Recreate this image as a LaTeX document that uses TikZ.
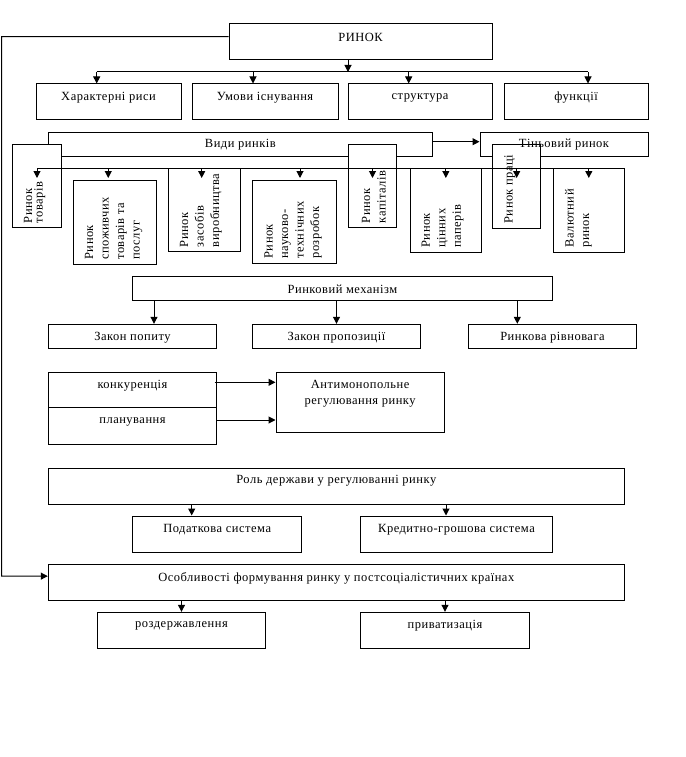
\documentclass[tikz,border=0pt]{standalone}
\usepackage{fontspec}
\setmainfont[LetterSpace=4]{Liberation Serif}
\usetikzlibrary{arrows.meta}
\tikzset{
  bx/.style={draw, fill=white, line width=1pt, inner sep=0pt},
  txt/.style={inner sep=0pt, font=\fontsize{12.5}{15.5}\selectfont, align=center},
  vtxt/.style={inner sep=0pt, rotate=90, anchor=north west, align=left, font=\fontsize{12.5}{15.5}\selectfont},
  ln/.style={line width=1pt},
  arr/.style={line width=1pt, -{Triangle[length=7pt,width=7pt]}}
}
\newcommand\mkbox[5]{%
  \pgfmathsetmacro\bxw{#4-#2}\pgfmathsetmacro\bxh{#5-#3}%
  \pgfmathsetmacro\bxx{(#2+#4)/2}\pgfmathsetmacro\bxy{(#3+#5)/2}%
  \node[bx, minimum width=\bxw pt, minimum height=\bxh pt] (#1) at (\bxx,\bxy) {};}
\begin{document}
\begin{tikzpicture}[x=1pt,y=-1pt]
\useasboundingbox (0,0) rectangle (685,757);
% top
\mkbox{rinok}{229}{24}{492}{60}
\mkbox{har}{36}{84}{181}{120}
\mkbox{umovy}{192}{84}{338}{120}
\mkbox{struct}{348}{84}{492}{120}
\mkbox{func}{504}{84}{648}{120}
\node[txt] (rinok-t) at ([yshift=-13.5pt]rinok.north) {РИНОК};
\node[txt] (har-t) at ([yshift=-14pt]har.north) {Характерні риси};
\node[txt] (umovy-t) at ([yshift=-14pt]umovy.north) {Умови існування};
\node[txt] (struct-t) at ([yshift=-14pt]struct.north) {структура};
\node[txt] (func-t) at ([yshift=-14pt]func.north) {функції};
% kinds of markets
\mkbox{vydy}{48}{132.3}{432.7}{156.7}
\mkbox{tin}{480}{132.3}{648}{156.7}
\node[txt] (vydy-t) at ([yshift=-12.5pt]vydy.north) {Види ринків};
\mkbox{v1}{12.3}{144.3}{61.7}{227.7}
\mkbox{v2}{73.3}{180}{156}{264.3}
\mkbox{v3}{168.3}{168.3}{240.7}{251.7}
\mkbox{v4}{252.7}{180}{336.7}{263.3}
\mkbox{v5}{348.3}{144.3}{396.7}{227.7}
\mkbox{v6}{410}{168.3}{481.7}{252.3}
\mkbox{v7}{492.7}{144.3}{540.7}{228.3}
\mkbox{v8}{553.3}{168.3}{624.3}{252.3}
\node[txt] (tin-t) at ([yshift=-12.5pt]tin.north) {Тіньовий ринок};
\node[vtxt, font=\fontsize{12.5}{10.5}\selectfont] (v1-t) at ([xshift=12pt,yshift=5pt]v1.south west) {Ринок\\товарів};
\node[vtxt] (v2-t) at ([xshift=12pt,yshift=5pt]v2.south west) {Ринок\\споживчих\\товарів та\\послуг};
\node[vtxt] (v3-t) at ([xshift=12pt,yshift=5pt]v3.south west) {Ринок\\засобів\\виробництва};
\node[vtxt] (v4-t) at ([xshift=12pt,yshift=5pt]v4.south west) {Ринок\\науково-\\технічних\\розробок};
\node[vtxt] (v5-t) at ([xshift=14pt,yshift=5pt]v5.south west) {Ринок\\капіталів};
\node[vtxt] (v6-t) at ([xshift=12pt,yshift=5pt]v6.south west) {Ринок\\цінних\\паперів};
\node[vtxt] (v7-t) at ([xshift=12pt,yshift=5pt]v7.south west) {Ринок праці};
\node[vtxt] (v8-t) at ([xshift=12pt,yshift=5pt]v8.south west) {Валютний\\ринок};
% mechanism
\mkbox{mech}{132.7}{276.7}{552.3}{300.7}
\mkbox{zp}{48.3}{324.3}{216.7}{348.3}
\mkbox{zpr}{252.3}{324.3}{420.7}{348.3}
\mkbox{rr}{468.3}{324.3}{636.7}{348.3}
\node[txt] (mech-t) at ([yshift=-13pt]mech.north) {Ринковий механізм};
\node[txt] (zp-t) at ([yshift=-13.5pt]zp.north) {Закон попиту};
\node[txt] (zpr-t) at ([yshift=-13.5pt]zpr.north) {Закон пропозиції};
\node[txt] (rr-t) at ([yshift=-13.5pt]rr.north) {Ринкова рівновага};
% competition
\mkbox{konk}{48.3}{372.7}{216.7}{407.7}
\mkbox{plan}{48.3}{407.7}{216.7}{444.3}
\mkbox{anti}{276}{372.7}{444.3}{432.3}
\node[txt] (konk-t) at ([yshift=-14pt]konk.north) {конкуренція};
\node[txt] (plan-t) at ([yshift=-14.6pt]plan.north) {планування};
\node[txt] (anti-t) at ([yshift=-21.5pt]anti.north) {Антимонопольне\\регулювання ринку};
% state role
\mkbox{rol}{48.3}{468.3}{624.3}{504}
\mkbox{podat}{132.7}{516}{301.7}{552.3}
\mkbox{kred}{360.7}{516}{552.3}{552.3}
\mkbox{osob}{48.3}{564.3}{624.3}{600}
\mkbox{rozd}{97.3}{612.3}{265.7}{648.3}
\mkbox{pryv}{360.7}{612.3}{529.3}{648.3}
\node[txt] (rol-t) at ([yshift=-13pt]rol.north) {Роль держави у регулюванні ринку};
\node[txt] (podat-t) at ([yshift=-14.5pt]podat.north) {Податкова система};
\node[txt] (kred-t) at ([yshift=-14.5pt]kred.north) {Кредитно-грошова система};
\node[txt] (osob-t) at ([yshift=-14.5pt]osob.north) {Особливості формування ринку у постсоціалістичних країнах};
\node[txt] (rozd-t) at ([yshift=-14pt]rozd.north) {роздержавлення};
\node[txt] (pryv-t) at ([yshift=-14pt]pryv.north) {приватизація};
% ---------- connectors ----------
\coordinate (bus1) at (0,72);
\coordinate (bus2) at (0,168.3);
\coordinate (tip2) at (0,178);
\coordinate (lc) at (1.5,576);
\draw[arr] ([xshift=-12.5pt]rinok.south) -- ([xshift=-12.5pt]rinok.south |- bus1);
\draw[ln] ([xshift=-11.8pt]har.north |- bus1) -- ([xshift=12pt]func.north |- bus1);
\draw[arr] ([xshift=-11.8pt]har.north |- bus1) -- ([xshift=-11.8pt]har.north);
\draw[arr] ([xshift=-12pt]umovy.north |- bus1) -- ([xshift=-12pt]umovy.north);
\draw[arr] ([xshift=-11.3pt]struct.north |- bus1) -- ([xshift=-11.3pt]struct.north);
\draw[arr] ([xshift=12pt]func.north |- bus1) -- ([xshift=12pt]func.north);
\draw[arr] ([yshift=2.8pt]vydy.east) -- ([yshift=2.8pt]vydy.east -| tin.west);
\draw[ln] (v1.north |- bus2) -- (v8.north |- bus2);
\draw[arr] (v1.north |- bus2) -- (v1.north |- tip2);
\draw[arr] ([xshift=-6.4pt]v2.north |- bus2) -- ([xshift=-6.4pt]v2.north |- tip2);
\draw[arr] ([xshift=-2.8pt]v3.north |- bus2) -- ([xshift=-2.8pt]v3.north |- tip2);
\draw[arr] ([xshift=5.3pt]v4.north |- bus2) -- ([xshift=5.3pt]v4.north |- tip2);
\draw[arr] (v5.north |- bus2) -- (v5.north |- tip2);
\draw[arr] (v6.north |- bus2) -- (v6.north |- tip2);
\draw[arr] (v7.north |- bus2) -- (v7.north |- tip2);
\draw[arr] (v8.north |- bus2) -- (v8.north |- tip2);
\draw[arr] ([xshift=21.5pt]zp.north |- mech.south) -- ([xshift=21.5pt]zp.north);
\draw[arr] (zpr.north |- mech.south) -- (zpr.north);
\draw[arr] ([xshift=-35.2pt]rr.north |- mech.south) -- ([xshift=-35.2pt]rr.north);
\draw[arr] ([yshift=7.9pt,xshift=-2.7pt]konk.east) -- ([yshift=7.9pt]konk.east -| anti.west);
\draw[arr] ([yshift=6pt]plan.east) -- ([yshift=6pt]plan.east -| anti.west);
\draw[arr] ([xshift=-25.5pt]podat.north |- rol.south) -- ([xshift=-25.5pt]podat.north);
\draw[arr] ([xshift=-10.5pt]kred.north |- rol.south) -- ([xshift=-10.5pt]kred.north);
\draw[arr] (rozd.north |- osob.south) -- (rozd.north);
\draw[arr] (pryv.north |- osob.south) -- (pryv.north);
\draw[arr] ([yshift=5.3pt]rinok.west) -| (lc) -- ([yshift=6pt]osob.west);
\end{tikzpicture}
\end{document}
